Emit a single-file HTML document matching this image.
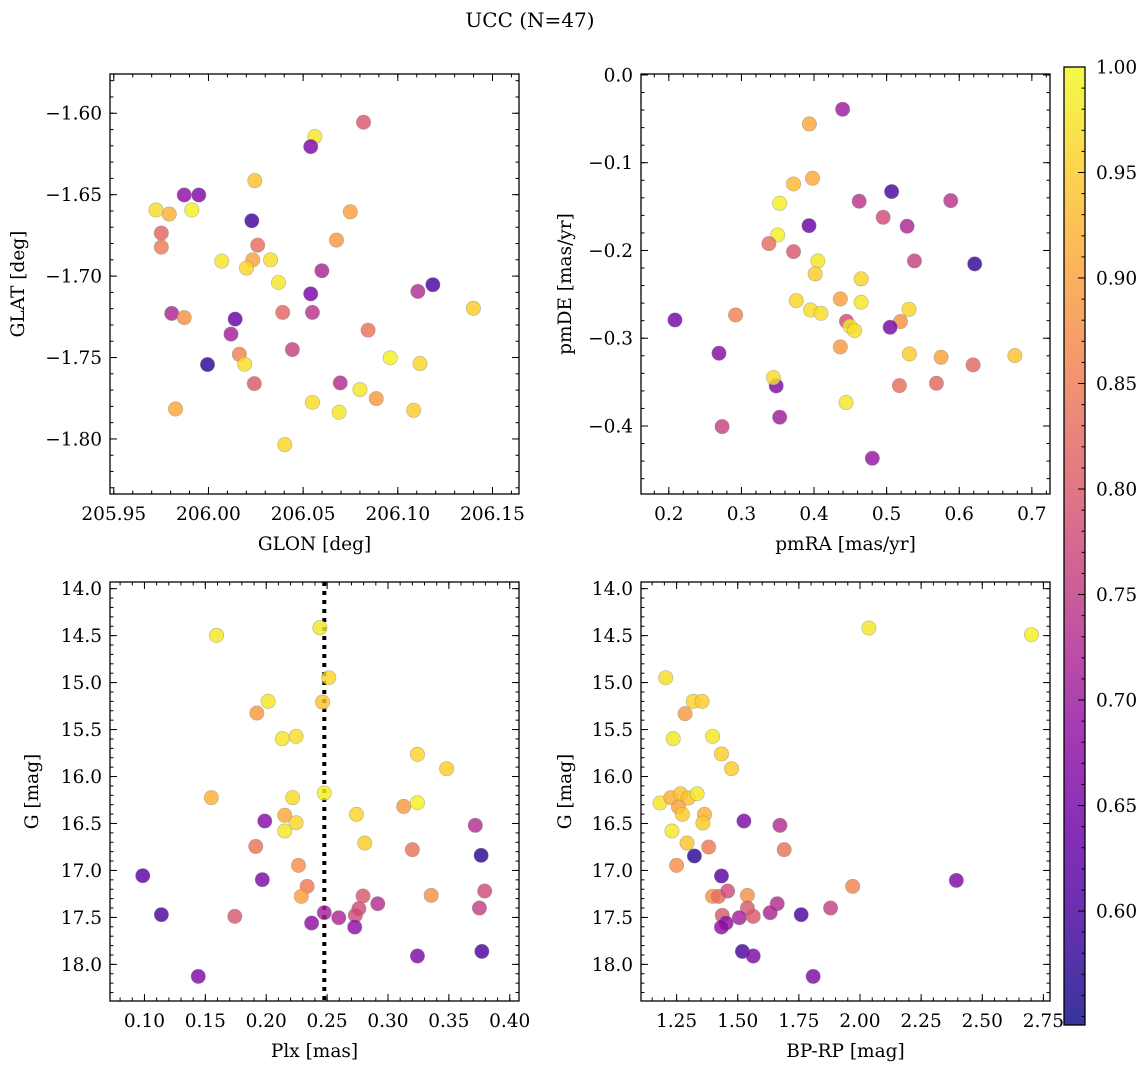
<!DOCTYPE html>
<html><head><meta charset="utf-8"><style>
body{margin:0;background:#fff;}
svg{display:block;font-family:"DejaVu Serif","Liberation Serif",serif;}
</style></head><body>
<svg id="fig" width="1148" height="1067" viewBox="0 0 1148 1067" xmlns="http://www.w3.org/2000/svg">
<text x="530" y="27" font-size="20" text-anchor="middle">UCC (N=47)</text>
</svg>
<script>
// ---------- data ----------
const glon=[206.0819,206.0562,206.054,206.0245,205.9872,205.9949,205.9723,205.9793,205.9912,206.0749,206.0229,205.9751,205.9751,206.026,206.0676,206.007,206.0234,206.0201,206.0328,206.0599,206.037,206.054,206.1106,206.1185,205.9806,205.9872,206.0392,206.0549,206.1399,206.0141,206.0119,206.0843,206.0443,206.0163,206.0191,205.9995,206.096,206.1117,206.0242,206.0696,206.08,206.0886,206.0549,206.069,206.1084,205.9826,206.0403];
const glat=[-1.6055,-1.6143,-1.6205,-1.6414,-1.6502,-1.6502,-1.6594,-1.6619,-1.6594,-1.6605,-1.666,-1.6736,-1.6822,-1.681,-1.6779,-1.6908,-1.69,-1.6951,-1.69,-1.6967,-1.7039,-1.7109,-1.7094,-1.7053,-1.7229,-1.7255,-1.7223,-1.7223,-1.7198,-1.7264,-1.7356,-1.7332,-1.7451,-1.748,-1.7541,-1.7543,-1.7502,-1.7537,-1.766,-1.7656,-1.7697,-1.7752,-1.7775,-1.7836,-1.7824,-1.7816,-1.8035];
const probA=[0.80,0.98,0.66,0.94,0.68,0.66,0.97,0.92,0.99,0.90,0.59,0.82,0.85,0.83,0.89,0.98,0.90,0.96,0.97,0.72,0.98,0.65,0.73,0.60,0.72,0.88,0.82,0.74,0.95,0.63,0.71,0.84,0.76,0.86,0.97,0.57,0.99,0.96,0.80,0.73,0.98,0.89,0.97,0.98,0.95,0.91,0.96];

const pmra=[0.4394,0.3936,0.3979,0.3718,0.3527,0.5069,0.4622,0.5883,0.4952,0.5282,0.3931,0.35,0.3378,0.3718,0.4053,0.5383,0.6213,0.4016,0.4649,0.3755,0.4362,0.4649,0.3952,0.4096,0.5309,0.292,0.2085,0.4447,0.5191,0.5048,0.4495,0.4559,0.4362,0.2691,0.5314,0.575,0.6766,0.6191,0.5686,0.5176,0.3479,0.3441,0.4441,0.3527,0.2734,0.4803];
const pmde=[-0.0391,-0.0558,-0.1177,-0.1242,-0.1462,-0.1329,-0.1439,-0.1432,-0.1622,-0.1724,-0.1717,-0.1823,-0.1922,-0.2013,-0.2119,-0.2119,-0.2153,-0.2267,-0.2324,-0.2571,-0.2552,-0.259,-0.2678,-0.2716,-0.267,-0.2735,-0.2792,-0.2807,-0.281,-0.2875,-0.2864,-0.2913,-0.3099,-0.3171,-0.3179,-0.3217,-0.3198,-0.3304,-0.3513,-0.354,-0.3543,-0.3449,-0.3733,-0.39,-0.4007,-0.4368];
const probB=[0.70,0.91,0.91,0.93,0.99,0.60,0.74,0.74,0.78,0.72,0.63,0.99,0.83,0.80,0.98,0.76,0.58,0.95,0.96,0.96,0.90,0.98,0.97,0.97,0.96,0.86,0.65,0.78,0.88,0.65,0.98,0.97,0.89,0.67,0.95,0.90,0.94,0.82,0.82,0.83,0.66,0.97,0.98,0.70,0.76,0.69];

const plx=[0.1592,0.2441,0.2514,0.2463,0.2016,0.1923,0.2132,0.2245,0.3242,0.3482,0.2477,0.1549,0.2217,0.3129,0.3242,0.2152,0.2741,0.2245,0.1988,0.2152,0.3717,0.1914,0.2809,0.32,0.3765,0.2265,0.0986,0.1968,0.2336,0.2288,0.2795,0.3355,0.3794,0.2916,0.2761,0.3751,0.2732,0.1139,0.1742,0.2477,0.2596,0.2373,0.2727,0.3242,0.3771,0.1442];
const gmagC=[14.497,14.415,14.948,15.207,15.2,15.324,15.597,15.572,15.764,15.917,16.176,16.225,16.225,16.318,16.279,16.413,16.403,16.492,16.474,16.58,16.52,16.744,16.708,16.779,16.839,16.946,17.056,17.098,17.169,17.276,17.272,17.265,17.219,17.354,17.407,17.4,17.478,17.471,17.489,17.45,17.503,17.56,17.603,17.911,17.862,18.128];
const probC=[0.98,0.98,0.96,0.94,0.98,0.89,0.98,0.97,0.96,0.95,0.99,0.92,0.97,0.89,0.99,0.91,0.96,0.96,0.67,0.98,0.73,0.84,0.95,0.84,0.57,0.88,0.62,0.66,0.85,0.90,0.80,0.88,0.78,0.73,0.78,0.76,0.78,0.60,0.80,0.71,0.72,0.68,0.68,0.66,0.60,0.66];
const plxLine=0.2477;

const bprp=[2.0364,2.701,1.2057,1.318,1.3544,1.2848,1.2358,1.3971,1.4335,1.4747,1.182,1.2263,1.2658,1.2975,1.3339,1.2579,1.2737,1.3639,1.3576,1.231,1.2927,1.5253,1.6725,1.3813,1.6899,1.3228,1.25,1.4335,2.394,1.97,1.3971,1.4209,1.4589,1.5396,1.5396,1.6614,1.8797,1.4367,1.5633,1.6329,1.5063,1.4525,1.4335,1.7595,1.519,1.5633,1.8085];
const gmagD=[14.419,14.49,14.948,15.2,15.2,15.331,15.597,15.572,15.76,15.917,16.282,16.225,16.183,16.229,16.183,16.325,16.403,16.403,16.495,16.58,16.708,16.474,16.52,16.751,16.779,16.846,16.946,17.059,17.106,17.169,17.276,17.276,17.219,17.265,17.4,17.354,17.4,17.478,17.489,17.45,17.503,17.56,17.603,17.471,17.862,17.911,18.128];
const probD=[0.98,0.99,0.97,0.96,0.95,0.89,0.98,0.98,0.95,0.95,0.98,0.92,0.94,0.94,0.98,0.90,0.95,0.92,0.95,0.98,0.94,0.66,0.73,0.85,0.84,0.57,0.88,0.62,0.66,0.86,0.88,0.83,0.78,0.88,0.80,0.73,0.76,0.80,0.80,0.72,0.71,0.68,0.68,0.60,0.60,0.66,0.66];

const cbTicks=[0.60,0.65,0.70,0.75,0.80,0.85,0.90,0.95,1.00];
const vmin=0.546, vmax=1.0;

// ---------- helpers ----------
const NS="http://www.w3.org/2000/svg";
const svg=document.getElementById('fig');
const TFS=18.5, LFS=18.5;
function mk(tag,attrs,parent){const e=document.createElementNS(NS,tag);for(const k in attrs)e.setAttribute(k,attrs[k]);(parent||svg).appendChild(e);return e;}
const stops=[[13,8,135],[65,4,157],[106,0,168],[143,13,164],[177,42,144],[204,71,120],[225,100,98],[242,132,75],[252,166,54],[252,206,37],[240,249,33]];
function plasma(t){t=Math.max(0,Math.min(1,t));const f=t*10,i=Math.min(9,Math.floor(f)),r=f-i;const a=stops[i],b=stops[i+1];
 return `rgb(${Math.round(a[0]+(b[0]-a[0])*r)},${Math.round(a[1]+(b[1]-a[1])*r)},${Math.round(a[2]+(b[2]-a[2])*r)})`;}
function cmap(v){return plasma((v-vmin)/(vmax-vmin));}
function fmt(v,d){const s=Math.abs(v).toFixed(d);return (v<-1e-9?'\u2212':'')+s;}

function panel(o){
 const g=mk('g',{});
 
 
 const sx=v=>o.x0+(v-o.xd[0])/(o.xd[1]-o.xd[0])*(o.x1-o.x0);
 const sy=v=>o.y0+(v-o.yd[0])/(o.yd[1]-o.yd[0])*(o.y1-o.y0);
 const tg=mk('g',{stroke:'#000','stroke-width':1},g);
 function ticks(dom,st,minor,axis){
  const a=Math.ceil(Math.min(dom[0],dom[1])/st-1e-6),b=Math.floor(Math.max(dom[0],dom[1])/st+1e-6);
  const L=minor?3.5:7;
  for(let k=a;k<=b;k++){const v=k*st;
   if(axis==='x'){const p=sx(v);mk('line',{x1:p,x2:p,y1:o.y1,y2:o.y1-L},tg);mk('line',{x1:p,x2:p,y1:o.y0,y2:o.y0+L},tg);}
   else{const p=sy(v);mk('line',{y1:p,y2:p,x1:o.x0,x2:o.x0+L},tg);mk('line',{y1:p,y2:p,x1:o.x1,x2:o.x1-L},tg);}
  }}
 ticks(o.xd,o.xmin,true,'x');ticks(o.xd,o.xmaj,false,'x');
 ticks(o.yd,o.ymin,true,'y');ticks(o.yd,o.ymaj,false,'y');
 for(const v of o.xticks){const t=mk('text',{x:sx(v),y:o.y1+26,'font-size':TFS,'text-anchor':'middle'},g);t.textContent=fmt(v,o.xdec);
  
  }
 for(const v of o.yticks){const t=mk('text',{x:o.x0-8,y:sy(v)+6.5,'font-size':TFS,'text-anchor':'end'},g);t.textContent=fmt(v,o.ydec);
  
  }
 const xl=mk('text',{x:(o.x0+o.x1)/2,y:o.y1+56,'font-size':LFS,'text-anchor':'middle'},g);xl.textContent=o.xlabel;
 
 
 const yl=mk('text',{x:0,y:0,'font-size':LFS,'text-anchor':'middle',transform:`translate(${o.ylx},${(o.y0+o.y1)/2}) rotate(-90)`},g);yl.textContent=o.ylabel;
 
 
 if(o.vline!==undefined){const l=mk('line',{x1:sx(o.vline),x2:sx(o.vline),y1:o.y0,y2:o.y1,stroke:'#000','stroke-width':4,'stroke-dasharray':'4 5'},g);
  
  }
 for(let i=0;i<o.xs.length;i++){
  const c=mk('circle',{cx:sx(o.xs[i]),cy:sy(o.ys[i]),r:7.2,fill:cmap(o.cs[i]),'fill-opacity':0.82,stroke:'#888','stroke-opacity':0.6,'stroke-width':0.6},g);
  
  
 }
 const fr=mk('rect',{x:o.x0,y:o.y0,width:o.x1-o.x0,height:o.y1-o.y0,fill:'none',stroke:'#000','stroke-width':1.3},g);
 
 
}

panel({name:'glon-glat-panel',x0:110,x1:519,y0:74,y1:494,xd:[205.948,206.164],yd:[-1.5759,-1.8338],
 xmaj:0.05,xmin:0.01,ymaj:0.05,ymin:0.01,xticks:[205.95,206.0,206.05,206.1,206.15],xdec:2,yticks:[-1.6,-1.65,-1.7,-1.75,-1.8],ydec:2,
 xlabel:'GLON [deg]',ylabel:'GLAT [deg]',ylx:24,xs:glon,ys:glat,cs:probA});
panel({name:'pm-panel',x0:641,x1:1050,y0:74,y1:494,xd:[0.1617,0.725],yd:[0.0011,-0.4775],
 xmaj:0.1,xmin:0.02,ymaj:0.1,ymin:0.02,xticks:[0.2,0.3,0.4,0.5,0.6,0.7],xdec:1,yticks:[0,-0.1,-0.2,-0.3,-0.4],ydec:1,
 xlabel:'pmRA [mas/yr]',ylabel:'pmDE [mas/yr]',ylx:571,xs:pmra,ys:pmde,cs:probB});
panel({name:'plx-g-panel',x0:110,x1:519,y0:582,y1:1001,xd:[0.0717,0.4076],yd:[13.929,18.39],
 xmaj:0.05,xmin:0.01,ymaj:0.5,ymin:0.1,xticks:[0.1,0.15,0.2,0.25,0.3,0.35,0.4],xdec:2,yticks:[14,14.5,15,15.5,16,16.5,17,17.5,18],ydec:1,
 xlabel:'Plx [mas]',ylabel:'G [mag]',ylx:38,xs:plx,ys:gmagC,cs:probC,vline:plxLine});
panel({name:'cmd-panel',x0:641,x1:1050,y0:582,y1:1001,xd:[1.1044,2.777],yd:[13.929,18.39],
 xmaj:0.25,xmin:0.05,ymaj:0.5,ymin:0.1,xticks:[1.25,1.5,1.75,2.0,2.25,2.5,2.75],xdec:2,yticks:[14,14.5,15,15.5,16,16.5,17,17.5,18],ydec:1,
 xlabel:'BP-RP [mag]',ylabel:'G [mag]',ylx:571,xs:bprp,ys:gmagD,cs:probD});

// colorbar
(function(){
 const x0=1064,x1=1085,y0=67,y1=1025;
 const g=mk('g',{});
 
 
 const defs=mk('defs',{},g);
 const lg=mk('linearGradient',{id:'cbg',x1:0,y1:1,x2:0,y2:0},defs);
 for(let i=0;i<=20;i++){mk('stop',{offset:i/20,'stop-color':plasma(i/20),'stop-opacity':0.82},lg);}
 mk('rect',{x:x0,y:y0,width:x1-x0,height:y1-y0,fill:'url(#cbg)'},g);
 const sy=v=>y1-(v-vmin)/(vmax-vmin)*(y1-y0);
 for(let v=0.55;v<=1.0001;v+=0.01){const p=sy(v);if(p<y0-0.5)continue;mk('line',{x1:x1,x2:x1-3.5,y1:p,y2:p,stroke:'#000','stroke-width':1},g);}
 for(const v of cbTicks){const p=sy(v);mk('line',{x1:x1,x2:x1-7,y1:p,y2:p,stroke:'#000','stroke-width':1},g);
  const t=mk('text',{x:x1+11,y:p+6.5,'font-size':TFS},g);t.textContent=v.toFixed(2);
  
  }
 mk('rect',{x:x0,y:y0,width:x1-x0,height:y1-y0,fill:'none',stroke:'#000','stroke-width':1.3},g);
})();
</script>
</body></html>
